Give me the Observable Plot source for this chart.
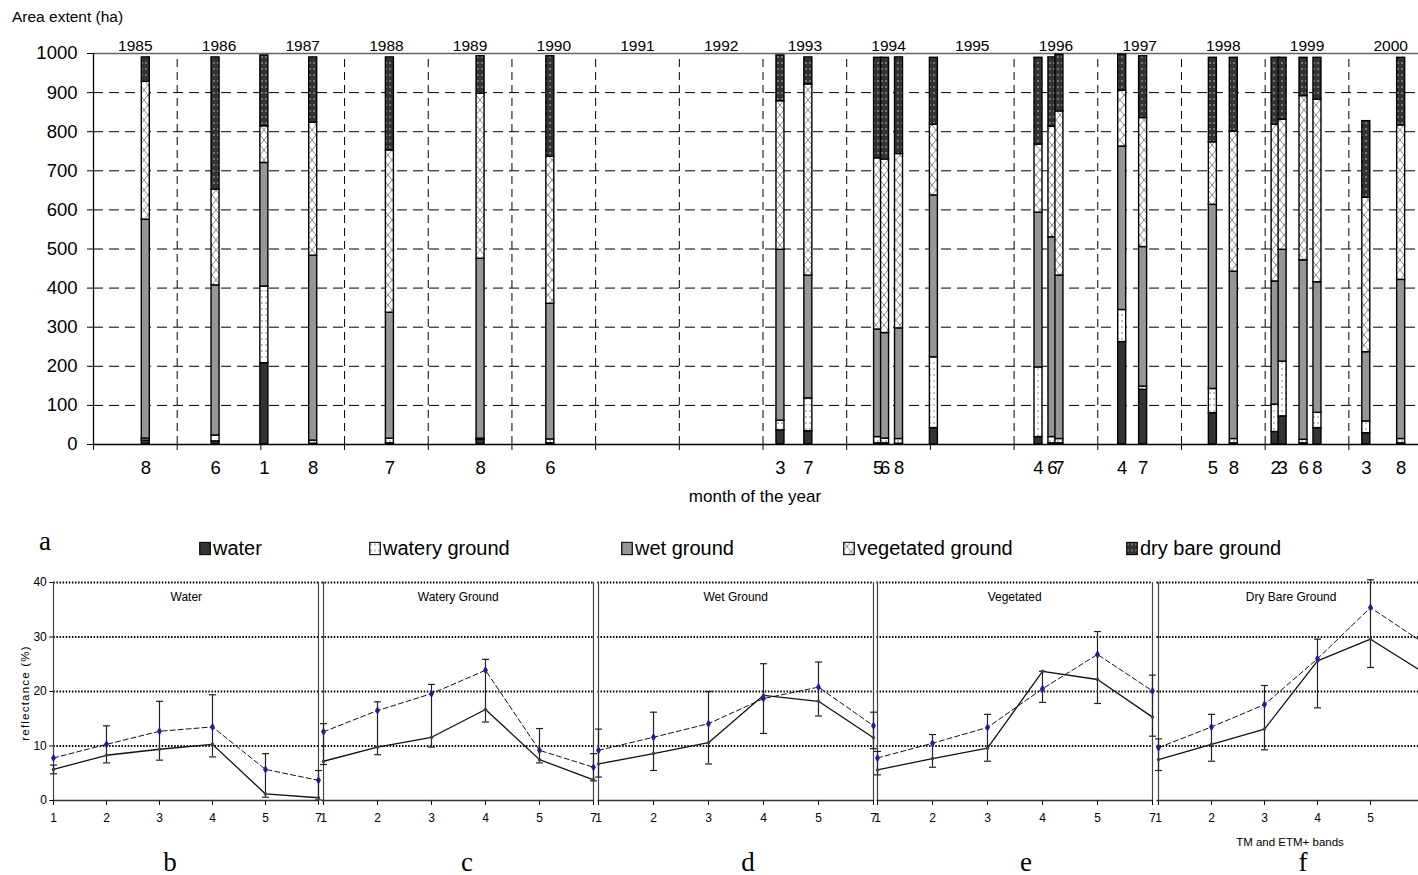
<!DOCTYPE html>
<html><head><meta charset="utf-8">
<script src="https://cdn.jsdelivr.net/npm/d3@7"></script>
<script src="https://cdn.jsdelivr.net/npm/@observablehq/plot@0.6"></script>
<style>
html,body{margin:0;padding:0;background:#fff;}
#root{position:relative;width:1418px;height:875px;overflow:hidden;font-family:"Liberation Sans",Arial,sans-serif;color:#000;}
.abs{position:absolute;white-space:nowrap;}
.letter{font-family:"Liberation Serif","Times New Roman",serif;font-size:27px;transform:translate(-50%,-50%);}
.leg{display:flex;align-items:center;font-size:20px;transform:translateY(-50%);}
.leg svg{margin-right:2px;}
</style></head><body>
<svg width="0" height="0" style="position:absolute">
<defs>
<pattern id="patWatery" width="4" height="6" patternUnits="userSpaceOnUse">
  <rect width="4" height="6" fill="#fff"/>
  <circle cx="2" cy="3" r="0.75" fill="#666"/>
</pattern>
<pattern id="patVeg" width="8" height="10" patternUnits="userSpaceOnUse">
  <rect width="8" height="10" fill="#fff"/>
  <path d="M0,0L8,10M8,0L0,10" stroke="#8a8a8a" stroke-width="1"/>
</pattern>
<pattern id="patDry" width="4" height="6" patternUnits="userSpaceOnUse">
  <rect width="4" height="6" fill="#333"/>
  <circle cx="2" cy="3" r="0.8" fill="#c8c8c8"/>
</pattern>
</defs></svg>
<div id="root"></div>
<script>
// ---------- Data: panel a (stacked area extent, ha) ----------
const categories = ["water", "watery ground", "wet ground", "vegetated ground", "dry bare ground"];
const years  = [1985,1986,1987,1987,1988,1989,1990,1993,1993,1994,1994,1994,1995,1996,1996,1996,1997,1997,1998,1998,1999,1999,1999,1999,2000,2000];
const months = [8,6,1,8,7,8,6,3,7,5,6,8,1,4,6,7,4,7,5,8,2,3,6,8,3,8];
const monthLabels = ["8","6","1","8","7","8","6","3","7","5","6","8","","4","6","7","4","7","5","8","2","3","6","8","3","8"];
const yearLabels = ["1985","1986","1987","1988","1989","1990","1991","1992","1993","1994","1995","1996","1997","1998","1999","2000"];
const water     = [10,8,208,2,3,12,3,36,34,3,3,2,42,19,3,3,262,140,80,3,32,72,3,42,29,3];
const wateryGr  = [5,15,196,8,12,3,10,25,84,16,12,12,181,178,16,11,82,8,62,11,70,140,9,39,30,11];
const wetGr     = [560,384,316,473,322,460,347,437,314,275,270,283,414,396,511,418,418,357,471,428,315,286,459,334,177,407];
const vegGr     = [353,245,94,340,415,422,376,380,489,438,444,446,181,174,283,420,143,330,160,358,401,333,420,467,395,395];
const dryBare   = [62,338,181,167,238,96,257,117,69,257,260,247,171,222,177,145,92,158,216,189,171,158,98,107,196,173];
const yTicksA   = [0,100,200,300,400,500,600,700,800,900,1000];

// ---------- Data: panels b-f (reflectance %) ----------
const bands = ["1","2","3","4","5","7"];
const panelTitles  = ["Water","Watery Ground","Wet Ground","Vegetated","Dry Bare Ground"];
const panelLetters = ["b","c","d","e","f"];
const waterSolid  = [5.7, 8.3, 9.4, 10.3, 1.2, 0.5];
const waterDashed = [7.8, 10.3, 12.7, 13.5, 5.7, 3.7];
const waterLo     = [4.9, 6.9, 7.4, 8.0, 0.6, 0.1];
const waterHi     = [6.5, 13.7, 18.2, 19.4, 8.6, 5.5];
const wateryGSolid  = [7.2, 9.8, 11.6, 16.7, 7.5, 3.8];
const wateryGDashed = [12.6, 16.5, 19.6, 23.9, 9.2, 6.1];
const wateryGLo     = [6.6, 8.4, 9.8, 14.4, 6.9, 3.6];
const wateryGHi     = [14.1, 18.1, 21.3, 25.9, 13.2, 8.6];
const wetGSolid  = [6.7, 8.6, 10.6, 19.3, 18.2, 11.5];
const wetGDashed = [9.2, 11.6, 14.1, 18.7, 20.8, 13.7];
const wetGLo     = [4.3, 5.5, 6.7, 12.3, 15.5, 9.5];
const wetGHi     = [13.1, 16.2, 20.0, 25.1, 25.4, 16.2];
const vegSolid  = [5.6, 7.7, 9.6, 23.7, 22.2, 15.3];
const vegDashed = [7.8, 10.5, 13.4, 20.5, 26.8, 20.1];
const vegLo     = [4.7, 6.1, 7.2, 18.0, 17.8, 11.8];
const vegHi     = [9.0, 12.1, 15.8, 23.7, 31.0, 23.0];
const drySolid  = [7.5, 10.3, 13.1, 25.6, 29.6, 23.5];
const dryDashed = [9.7, 13.5, 17.6, 26.0, 35.4, 28.9];
const dryLo     = [5.5, 7.2, 9.3, 17.0, 24.4, null];
const dryHi     = [11.3, 15.8, 21.1, 29.6, 40.5, null];
const yTicksB   = [0,10,20,30,40];

// ---------- helpers ----------
const root = document.getElementById("root");
function place(el, left, top) { el.classList.add("abs"); el.style.left = left + "px"; el.style.top = top + "px"; root.appendChild(el); return el; }
function label(text, left, top, css) { const d = document.createElement("div"); d.textContent = text; Object.assign(d.style, css || {}); return place(d, left, top); }

// ---------- Panel a ----------
const fills = ["#333333", "url(#patWatery)", "#969696", "url(#patVeg)", "url(#patDry)"];
const series = [water, wateryGr, wetGr, vegGr, dryBare];
const pxPerYear = 83.69, leftA = 93, widthA = 1418;
const bars = years.map((yr, i) => ({t: yr + (months[i] - 0.5) / 12, label: monthLabels[i]}));
const stacked = [];
bars.forEach((b, i) => categories.forEach((c, k) => stacked.push({t: b.t, cat: c, value: series[k][i]})));
const hw = 4 / pxPerYear;
const yearBounds = d3.range(1985, 2001);

const plotA = Plot.plot({
  width: widthA, height: 510,
  marginLeft: leftA, marginRight: 0, marginTop: 53, marginBottom: 66,
  style: {fontFamily: "'Liberation Sans', Arial, sans-serif", fontSize: "18.5px", background: "transparent", maxWidth: "none", overflow: "visible"},
  x: {domain: [1985, 1985 + (widthA - leftA) / pxPerYear], ticks: yearBounds, tickFormat: () => "", tickSize: 6, label: null},
  y: {domain: [0, 1000], ticks: yTicksA, tickFormat: d => String(d), tickSize: 6, tickPadding: 10, label: null},
  color: {domain: categories, range: fills},
  marks: [
    Plot.ruleY(yTicksA.filter(v => v > 0 && v < 1000), {stroke: "#000", strokeWidth: 1, strokeDasharray: "10,6"}),
    Plot.ruleX(yearBounds.slice(1), {y1: 0, y2: 1000, stroke: "#000", strokeWidth: 1, strokeDasharray: "8,5"}),
    Plot.ruleY([1000], {stroke: "#666", strokeWidth: 1.5}),
    Plot.rectY(stacked, {x1: d => d.t - hw, x2: d => d.t + hw, y: "value", fill: "cat", stroke: "#000", strokeWidth: 1.4}),
    Plot.ruleX([1985], {y1: 0, y2: 1000, stroke: "#000", strokeWidth: 1.3}),
    Plot.ruleY([0], {stroke: "#000", strokeWidth: 1.3}),
    Plot.text(yearLabels, {x: d => +d + 0.5, frameAnchor: "top", lineAnchor: "bottom", dy: -3, fontSize: 15.5, text: d => d}),
    Plot.text(bars, {x: "t", text: "label", frameAnchor: "bottom", dy: 29, fontSize: 18.5})
  ]
});
place(plotA, 0, 0);
label("Area extent (ha)", 12, 8, {fontSize: "15.5px"});
label("month of the year", 755, 497, {fontSize: "17px", transform: "translate(-50%,-50%)"});

// ---------- Legend ----------
const legX = [199, 369, 621, 843, 1126];
categories.forEach((c, k) => {
  const d = document.createElement("div");
  d.className = "leg";
  d.innerHTML = `<svg width="12" height="14"><rect x="0.75" y="0.75" width="10.5" height="12.5" fill="${fills[k]}" stroke="#000" stroke-width="1.2"/></svg><span>${c}</span>`;
  place(d, legX[k], 548);
});
const la = label("a", 45, 541); la.classList.add("letter");

// ---------- Panels b-f ----------
const panels = [
  {solid: waterSolid, dashed: waterDashed, lo: waterLo, hi: waterHi},
  {solid: wateryGSolid, dashed: wateryGDashed, lo: wateryGLo, hi: wateryGHi},
  {solid: wetGSolid, dashed: wetGDashed, lo: wetGLo, hi: wetGHi},
  {solid: vegSolid, dashed: vegDashed, lo: vegLo, hi: vegHi},
  {solid: drySolid, dashed: dryDashed, lo: dryLo, hi: dryHi}
];
const panelX = [[53.3, 318.3], [321.7, 594.3], [597.7, 873.3], [876.7, 1152.3], [1156, 1424.4]];
const letterX = [170, 467, 748, 1026, 1303];
const capSymbol = {draw(ctx, size) { const w = Math.sqrt(size / Math.PI); ctx.moveTo(-w, 0); ctx.lineTo(w, 0); }};
const narrow = "'Liberation Sans Narrow','Arial Narrow','Liberation Sans',Arial,sans-serif";

panels.forEach((p, i) => {
  const [x0, x1] = panelX[i];
  const ml = i === 0 ? 53.3 : 3.4, mr = 3.4;
  const rows = bands.map((b, j) => ({band: b, solid: p.solid[j], dashed: p.dashed[j], lo: p.lo[j], hi: p.hi[j]}));
  const errs = rows.filter(d => d.lo != null);
  const lastPanel = i === panels.length - 1;
  const svg = Plot.plot({
    width: (x1 - x0) + ml + mr, height: 270,
    marginLeft: ml, marginRight: mr, marginTop: 12, marginBottom: 40,
    style: {fontFamily: narrow, fontSize: "12px", background: "transparent", maxWidth: "none", overflow: "visible"},
    x: {type: "point", domain: bands, padding: 0, tickSize: 5, tickPadding: 8, label: null,
        tickFormat: d => (lastPanel && d === bands[bands.length - 1]) ? "" : d},
    y: {domain: [0, 40], ticks: yTicksB, tickSize: 4, tickPadding: 3, label: null, axis: i === 0 ? "left" : null},
    marks: [
      Plot.ruleY(yTicksB.slice(1), {stroke: "#000", strokeWidth: 2, strokeDasharray: "1.5,1.6"}),
      Plot.ruleX([bands[0], bands[bands.length - 1]], {y1: 0, y2: 40, stroke: "#444", strokeWidth: 1.2}),
      Plot.ruleY([0], {stroke: "#333", strokeWidth: 1.3}),
      Plot.ruleX(errs, {x: "band", y1: "lo", y2: "hi", stroke: "#222", strokeWidth: 1.2}),
      Plot.dot(errs, {x: "band", y: "lo", symbol: capSymbol, r: 3.5, stroke: "#222", strokeWidth: 1.2, fill: "none"}),
      Plot.dot(errs, {x: "band", y: "hi", symbol: capSymbol, r: 3.5, stroke: "#222", strokeWidth: 1.2, fill: "none"}),
      Plot.line(rows, {x: "band", y: "dashed", stroke: "#111", strokeWidth: 1, strokeDasharray: "5,3"}),
      Plot.line(rows, {x: "band", y: "solid", stroke: "#111", strokeWidth: 1.3}),
      Plot.dot(rows, {x: "band", y: "solid", r: 1.8, fill: "#444"}),
      Plot.dot(rows, {x: "band", y: "dashed", symbol: "diamond", r: 2.6, fill: "#1e1e96"}),
      Plot.text([panelTitles[i]], {frameAnchor: "top", dy: 10, fontSize: 12, text: d => d})
    ]
  });
  place(svg, x0 - ml, 570);
  const l = label(panelLetters[i], letterX[i], 862); l.classList.add("letter");
});
label("reflectance (%)", 25, 693, {fontFamily: narrow, fontSize: "11.5px", letterSpacing: "1.2px", transform: "translate(-50%,-50%) rotate(-90deg)"});
label("TM and ETM+ bands", 1290, 842, {fontFamily: narrow, fontSize: "11.5px", transform: "translate(-50%,-50%)"});
</script>
</body></html>
